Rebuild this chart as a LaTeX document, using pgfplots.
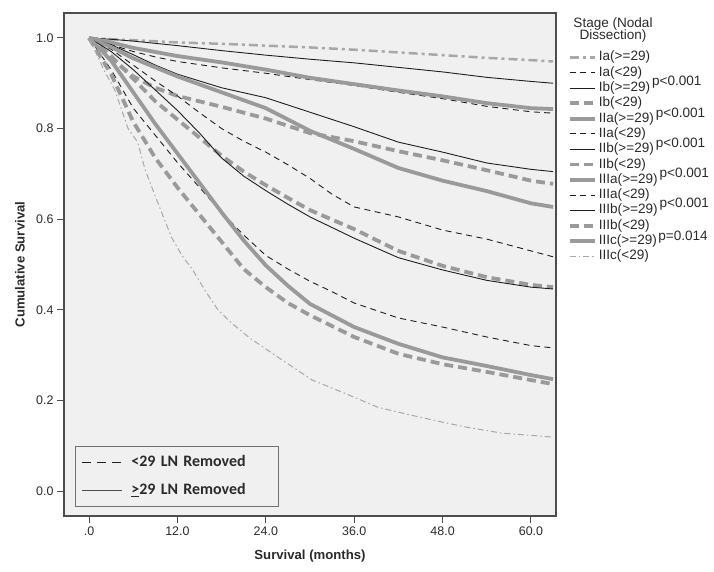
\documentclass[border=0pt]{standalone}
\usepackage{pgfplots}
\pgfplotsset{compat=1.18}
\usepackage{fontspec}
\setmainfont{Liberation Sans}
\newfontfamily\carlito{Carlito}
\definecolor{bg}{HTML}{F0F0F0}
\definecolor{frame}{HTML}{4D4D4D}
\definecolor{sgray}{HTML}{9A9A9A}
\definecolor{lgray}{HTML}{A8A8A8}
\definecolor{ink}{HTML}{1E1E1E}
\definecolor{txt}{HTML}{2A2A2A}
\tikzset{
  gdashdot/.style={color=lgray, line width=2.5bp, dash pattern=on 9bp off 4bp on 3bp off 4bp},
  bdash/.style={color=ink, line width=0.9bp, dash pattern=on 6bp off 4.5bp},
  bsolid/.style={color=ink, line width=0.9bp},
  gdash/.style={color=sgray, line width=3.8bp, dash pattern=on 9bp off 5bp},
  gsolid/.style={color=sgray, line width=3.8bp},
  gthin/.style={color=lgray, line width=1bp, dash pattern=on 6bp off 3bp on 1.5bp off 3bp},
}
\begin{document}
\begin{tikzpicture}
\begin{axis}[
  at={(0,0)}, anchor=south west,
  scale only axis, width=492bp, height=503bp,
  xmin=-3.4, xmax=63.4, ymin=-0.055, ymax=1.055,
  axis background/.style={fill=bg},
  axis line style={frame, line width=1.3bp},
  tick align=outside, major tick length=7bp,
  tick style={frame, line width=1bp},
  xtick pos=bottom, ytick pos=left,
  xtick={0,12,24,36,48,60}, xticklabels={.0,12.0,24.0,36.0,48.0,60.0},
  ytick={0,0.2,0.4,0.6,0.8,1.0}, yticklabels={0.0,0.2,0.4,0.6,0.8,1.0},
  ticklabel style={font=\fontsize{12.5}{14}\selectfont, text=txt},
  /pgf/number format/assume math mode=true,
  xlabel={Survival (months)}, ylabel={Cumulative Survival},
  label style={font=\bfseries\fontsize{13.2}{15}\selectfont, text=txt},
  xlabel style={at={(axis description cs:0.5,-0.0795)}, anchor=center},
  ylabel style={at={(axis description cs:-0.0894,0.5)}, anchor=center},
  no markers,
  every axis plot/.append style={line join=round},
  legend image code/.code={\draw[#1] (0bp,0bp) -- (25bp,0bp);},
  legend cell align=left,
  legend style={at={(rel axis cs:1.0244,0.9258)}, anchor=north west, draw=none, fill=none,
    inner sep=0pt, outer sep=0pt, row sep=1.1bp, font=\fontsize{13.6}{13.6}\selectfont, text=txt,
    nodes={inner sep=0.6bp, text height=10bp, text depth=3bp, anchor=west},
    /tikz/every odd column/.style={column sep=1.5bp}},
]
\addplot[gdashdot] coordinates {(0,1)(3,0.997)(6,0.995)(12,0.99)(18,0.987)(24,0.983)(30,0.979)(36,0.974)(42,0.968)(48,0.962)(54,0.956)(60,0.951)(63,0.948)};
\addlegendentry{Ia(>=29)}
\addplot[bdash] coordinates {(0,1)(3,0.985)(6,0.97)(9,0.958)(12,0.948)(18,0.934)(24,0.922)(30,0.908)(36,0.895)(42,0.88)(48,0.866)(54,0.849)(60,0.837)(63,0.834)};
\addlegendentry{Ia(<29)}
\addplot[bsolid] coordinates {(0,1)(3,0.997)(6,0.993)(9,0.988)(12,0.983)(18,0.972)(24,0.962)(30,0.953)(36,0.945)(42,0.935)(48,0.925)(54,0.913)(60,0.904)(63,0.90)};
\addlegendentry{Ib(>=29)\hspace{2bp}\raisebox{6bp}{p<0.001}}
\addplot[gdash] coordinates {(0,1)(3,0.955)(6,0.915)(9,0.89)(12,0.872)(18,0.848)(24,0.822)(30,0.79)(36,0.772)(42,0.75)(48,0.73)(54,0.708)(60,0.685)(63,0.678)};
\addlegendentry{Ib(<29)}
\addplot[gsolid] coordinates {(0,1)(3,0.99)(6,0.978)(12,0.96)(18,0.946)(24,0.93)(30,0.912)(36,0.898)(42,0.884)(48,0.871)(54,0.856)(60,0.845)(63,0.843)};
\addlegendentry{IIa(>=29)\hspace{2bp}\raisebox{5bp}{p<0.001}}
\addplot[bdash] coordinates {(0,1)(3,0.975)(6,0.94)(9,0.905)(12,0.872)(15,0.835)(18,0.8)(21,0.772)(24,0.748)(27,0.72)(30,0.69)(33,0.655)(36,0.627)(42,0.605)(48,0.576)(54,0.556)(60,0.53)(63,0.517)};
\addlegendentry{IIa(<29)}
\addplot[bsolid] coordinates {(0,1)(3,0.985)(6,0.963)(9,0.94)(12,0.92)(18,0.89)(24,0.868)(30,0.836)(36,0.804)(42,0.77)(48,0.748)(54,0.724)(60,0.71)(63,0.705)};
\addlegendentry{IIb(>=29)\hspace{2bp}\raisebox{5bp}{p<0.001}}
\addplot[gdash] coordinates {(0,1)(3,0.96)(6,0.91)(9,0.86)(12,0.82)(15,0.78)(18,0.74)(21,0.705)(24,0.675)(27,0.647)(30,0.62)(36,0.578)(42,0.53)(48,0.497)(54,0.472)(60,0.455)(63,0.45)};
\addlegendentry{IIb(<29)}
\addplot[gsolid] coordinates {(0,1)(3,0.98)(6,0.955)(9,0.935)(12,0.915)(18,0.88)(24,0.845)(30,0.795)(36,0.755)(42,0.713)(48,0.685)(54,0.662)(60,0.635)(63,0.627)};
\addlegendentry{IIIa(>=29)\hspace{2bp}\raisebox{6bp}{p<0.001}}
\addplot[bdash] coordinates {(0,1)(3,0.93)(6,0.845)(9,0.785)(12,0.725)(15,0.67)(18,0.615)(21,0.565)(24,0.52)(27,0.49)(30,0.463)(33,0.44)(36,0.415)(42,0.382)(48,0.362)(54,0.34)(60,0.321)(63,0.316)};
\addlegendentry{IIIa(<29)}
\addplot[bsolid] coordinates {(0,1)(3,0.97)(6,0.93)(9,0.885)(12,0.84)(15,0.79)(18,0.735)(21,0.695)(24,0.663)(27,0.633)(30,0.605)(36,0.558)(42,0.515)(48,0.488)(54,0.465)(60,0.45)(63,0.446)};
\addlegendentry{IIIb(>=29)\hspace{2bp}\raisebox{6bp}{p<0.001}}
\addplot[gdash] coordinates {(0,1)(3,0.92)(6,0.815)(9,0.735)(12,0.67)(15,0.61)(18,0.55)(21,0.49)(24,0.45)(27,0.415)(30,0.388)(36,0.34)(42,0.303)(48,0.28)(54,0.263)(60,0.245)(63,0.236)};
\addlegendentry{IIIb(<29)}
\addplot[gsolid] coordinates {(0,1)(3,0.95)(6,0.88)(9,0.81)(12,0.745)(15,0.68)(18,0.615)(21,0.553)(24,0.498)(27,0.453)(30,0.413)(36,0.362)(42,0.325)(48,0.295)(54,0.276)(60,0.256)(63,0.247)};
\addlegendentry{IIIc(>=29)\hspace{1.5bp}\raisebox{4bp}{p=0.014}}
\addplot[gthin] coordinates {(0,1)(2,0.93)(3.5,0.885)(5.3,0.8)(6.6,0.77)(7.6,0.71)(9,0.65)(11.2,0.56)(12.6,0.52)(14,0.49)(15.7,0.444)(17.5,0.40)(19.4,0.37)(21.8,0.338)(25.6,0.296)(30.3,0.245)(34.7,0.216)(39.2,0.185)(43.6,0.168)(48,0.152)(51.3,0.141)(56,0.128)(63,0.119)};
\addlegendentry{IIIc(<29)}
\end{axis}
\begin{axis}[
  at={(0,0)}, anchor=south west,
  scale only axis, width=492bp, height=503bp,
  xmin=0, xmax=492, ymin=0, ymax=503, hide axis,
  legend image code/.code={\draw[#1] (0bp,0bp) -- (40bp,0bp);},
  legend cell align=left,
  legend style={at={(axis cs:11,70)}, anchor=north west, draw=frame!80, line width=0.9bp, fill=bg,
    inner xsep=6bp, inner ysep=8bp, row sep=12bp,
    font=\carlito\bfseries\fontsize{16}{16}\selectfont, text=txt,
    nodes={inner sep=0pt, text height=12bp, text depth=4bp, text width=141bp, anchor=west},
    /tikz/every odd column/.style={column sep=9bp}},
]
\addlegendimage{ink, line width=1bp, dash pattern=on 9bp off 6bp}
\addlegendentry{<29 LN Removed}
\addlegendimage{frame, line width=1bp}
\addlegendentry{\underline{>}29 LN Removed}
\end{axis}
\node[font=\fontsize{13.6}{13}\selectfont, text=txt, align=center] at (549bp,486bp) {Stage (Nodal\\Dissection)};
\pgfresetboundingbox
\path[use as bounding box] (-64bp,-56bp) rectangle (650bp,516bp);
\end{tikzpicture}
\end{document}
